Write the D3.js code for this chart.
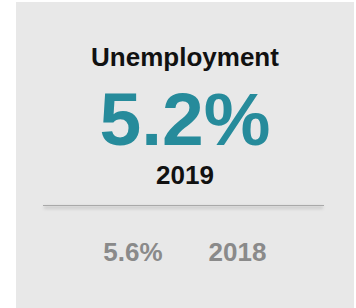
<!DOCTYPE html>
<html>
<head>
<meta charset="utf-8">
<script src="https://cdn.jsdelivr.net/npm/d3@7"></script>
<style>
  body { margin: 0; background: #fff; }
  svg { display: block; font-family: "Liberation Sans", Arial, sans-serif; }
</style>
</head>
<body>
<svg id="chart"></svg>
<script>
// KPI card data
const metricNames = ['Unemployment'];
const currentValues = [5.2];
const currentYears = ['2019'];
const previousValues = [5.6];
const previousYears = ['2018'];

const width = 356, height = 308;
const card = { x: 16, y: 2, w: 338, h: 320 };
const cx = card.x + card.w / 2;

const svg = d3.select('#chart').attr('width', width).attr('height', height);

// blur for the divider's soft shadow (user space so a flat line still has a region)
const defs = svg.append('defs');
defs.append('filter').attr('id', 'blur')
  .attr('filterUnits', 'userSpaceOnUse')
  .attr('x', 0).attr('y', 180).attr('width', width).attr('height', 60)
  .append('feGaussianBlur').attr('stdDeviation', 1.6);

svg.append('rect')
  .attr('x', card.x).attr('y', card.y)
  .attr('width', card.w).attr('height', card.h)
  .attr('fill', '#e8e8e8');

const fmt = d => d3.format('.1f')(d) + '%';

const g = svg.selectAll('g.kpi')
  .data(metricNames.map((name, i) => ({
    name,
    value: currentValues[i],
    year: currentYears[i],
    prev: previousValues[i],
    prevYear: previousYears[i]
  })))
  .enter().append('g').attr('class', 'kpi');

g.append('text')
  .attr('x', cx).attr('y', 66)
  .attr('text-anchor', 'middle')
  .attr('font-size', 26).attr('font-weight', 'bold')
  .attr('fill', '#111')
  .text(d => d.name);

g.append('text')
  .attr('x', cx).attr('y', 145)
  .attr('text-anchor', 'middle')
  .attr('font-size', 75).attr('font-weight', 'bold')
  .attr('fill', '#268b9b')
  .text(d => fmt(d.value));

g.append('text')
  .attr('x', cx).attr('y', 184)
  .attr('text-anchor', 'middle')
  .attr('font-size', 26).attr('font-weight', 'bold')
  .attr('fill', '#111')
  .text(d => d.year);

// divider shadow then divider
g.append('line')
  .attr('x1', 44).attr('x2', 323)
  .attr('y1', 207.5).attr('y2', 207.5)
  .attr('stroke', '#000').attr('stroke-opacity', 0.12).attr('stroke-width', 3)
  .attr('filter', 'url(#blur)');

g.append('line')
  .attr('x1', 43).attr('x2', 324)
  .attr('y1', 205.5).attr('y2', 205.5)
  .attr('stroke', '#a9a9a9').attr('stroke-width', 1);

g.append('text')
  .attr('x', 133).attr('y', 261)
  .attr('text-anchor', 'middle')
  .attr('font-size', 26).attr('font-weight', 'bold')
  .attr('fill', '#8a8a8a')
  .text(d => fmt(d.prev));

g.append('text')
  .attr('x', 237.5).attr('y', 261)
  .attr('text-anchor', 'middle')
  .attr('font-size', 26).attr('font-weight', 'bold')
  .attr('fill', '#8a8a8a')
  .text(d => d.prevYear);
</script>
</body>
</html>
